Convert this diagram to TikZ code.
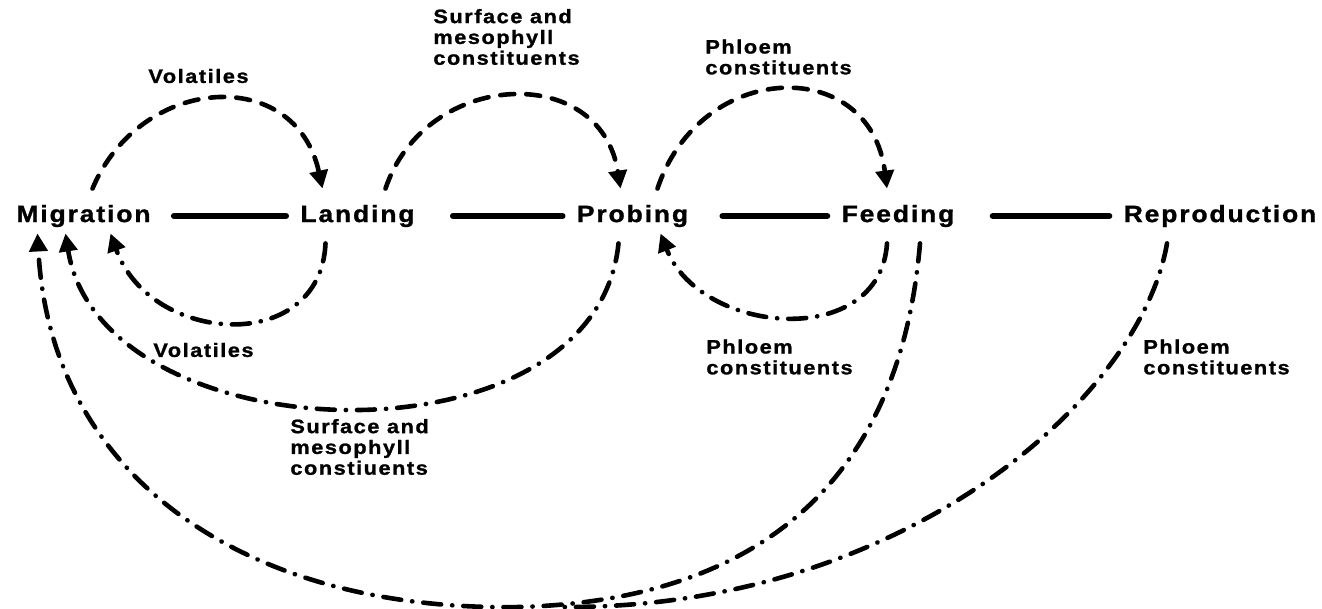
\documentclass[tikz,border=0pt]{standalone}
\usepackage{fontspec}
\setmainfont{Liberation Sans}[FakeStretch=1.12,LetterSpace=8,FakeBold=1.2]
\usetikzlibrary{arrows.meta}
\begin{document}
\begin{tikzpicture}[
        x=0.5pt, y=-0.5pt,
        stage/.style={inner xsep=0pt, inner ysep=8pt, font=\fontsize{11.8}{14}\selectfont\bfseries},
        note/.style={anchor=west, align=left, inner sep=0pt, font=\fontsize{9.7}{10.4}\selectfont\bfseries},
        link/.style={draw, line width=3pt, line cap=round, shorten <=19pt, shorten >=7pt},
        cue/.style={draw, line width=2.3pt, line cap=round, dash pattern=on 7pt off 6pt, -{Triangle[length=9pt,width=9pt]}},
        back/.style={draw, line width=2.3pt, line cap=round, dash pattern=on 9pt off 5.5pt on 0.1pt off 5.5pt, -{Triangle[length=9pt,width=9pt]}},
    ]
    \useasboundingbox (0,0) rectangle (1322,609);
    \node[stage] (migration) at (83.5,216) {Migration};
    \node[stage] (landing) at (357.5,216) {Landing};
    \node[stage] (probing) at (632.5,216) {Probing};
    \node[stage] (feeding) at (898,216) {Feeding};
    \node[stage] (reproduction) at (1220,216) {Reproduction};
    \coordinate (low) at (520,607);
    \coordinate (join) at (560,607);

    \node[note] (volUp) at (148,76) {Volatiles};
    \node[note] (smUp) at (433,37) {Surface and\\mesophyll\\constituents};
    \node[note] (phlUp) at (705,57) {Phloem\\constituents};
    \node[note] (volDown) at (153,350) {Volatiles};
    \node[note] (smDown) at (290,447) {Surface and\\mesophyll\\constiuents};
    \node[note] (phlDown) at (706,357) {Phloem\\constituents};
    \node[note] (phlRepro) at (1143,357) {Phloem\\constituents};

    \draw[link, shorten <=11.5pt] (migration) -- (landing);
    \draw[link] (landing) -- (probing);
    \draw[link, shorten <=17pt] (probing) -- (feeding);
    \draw[link] (feeding) -- (reproduction);

    \draw[cue] ([xshift=4.5pt]migration.north) .. controls +(48,-114) and +(-27,-124) .. ([xshift=-17.5pt]landing.north);
    \draw[cue] ([xshift=14pt]landing.north) .. controls +(40,-119) and +(-20,-127) .. ([xshift=-6pt]probing.north);
    \draw[cue] ([xshift=12.5pt]probing.north) .. controls +(43,-129) and +(-17,-134) .. ([xshift=-5.5pt]feeding.north);

    \draw[back] ([xshift=-16pt]landing.south) .. controls +(-5,112) and +(40,112) .. ([xshift=13.5pt,yshift=5pt]migration.south);
    \draw[back] ([xshift=-7pt]probing.south) .. controls +(-23,230) and +(35,222) .. ([xshift=-9pt,yshift=5pt]migration.south);
    \draw[back] ([xshift=-5.5pt]feeding.south) .. controls +(-7,107) and +(40,102) .. ([xshift=14pt,yshift=5pt]probing.south);
    \draw[back] ([xshift=11pt]feeding.south) .. controls +(-20,237) and +(240,-7) .. (low)
        .. controls +(-270,5) and +(13,247) .. ([xshift=-23pt,yshift=5pt]migration.south);
    \draw[back, -] ([xshift=-26.5pt]reproduction.south) .. controls +(-27,157) and +(340,3) .. (join);
\end{tikzpicture}
\end{document}
